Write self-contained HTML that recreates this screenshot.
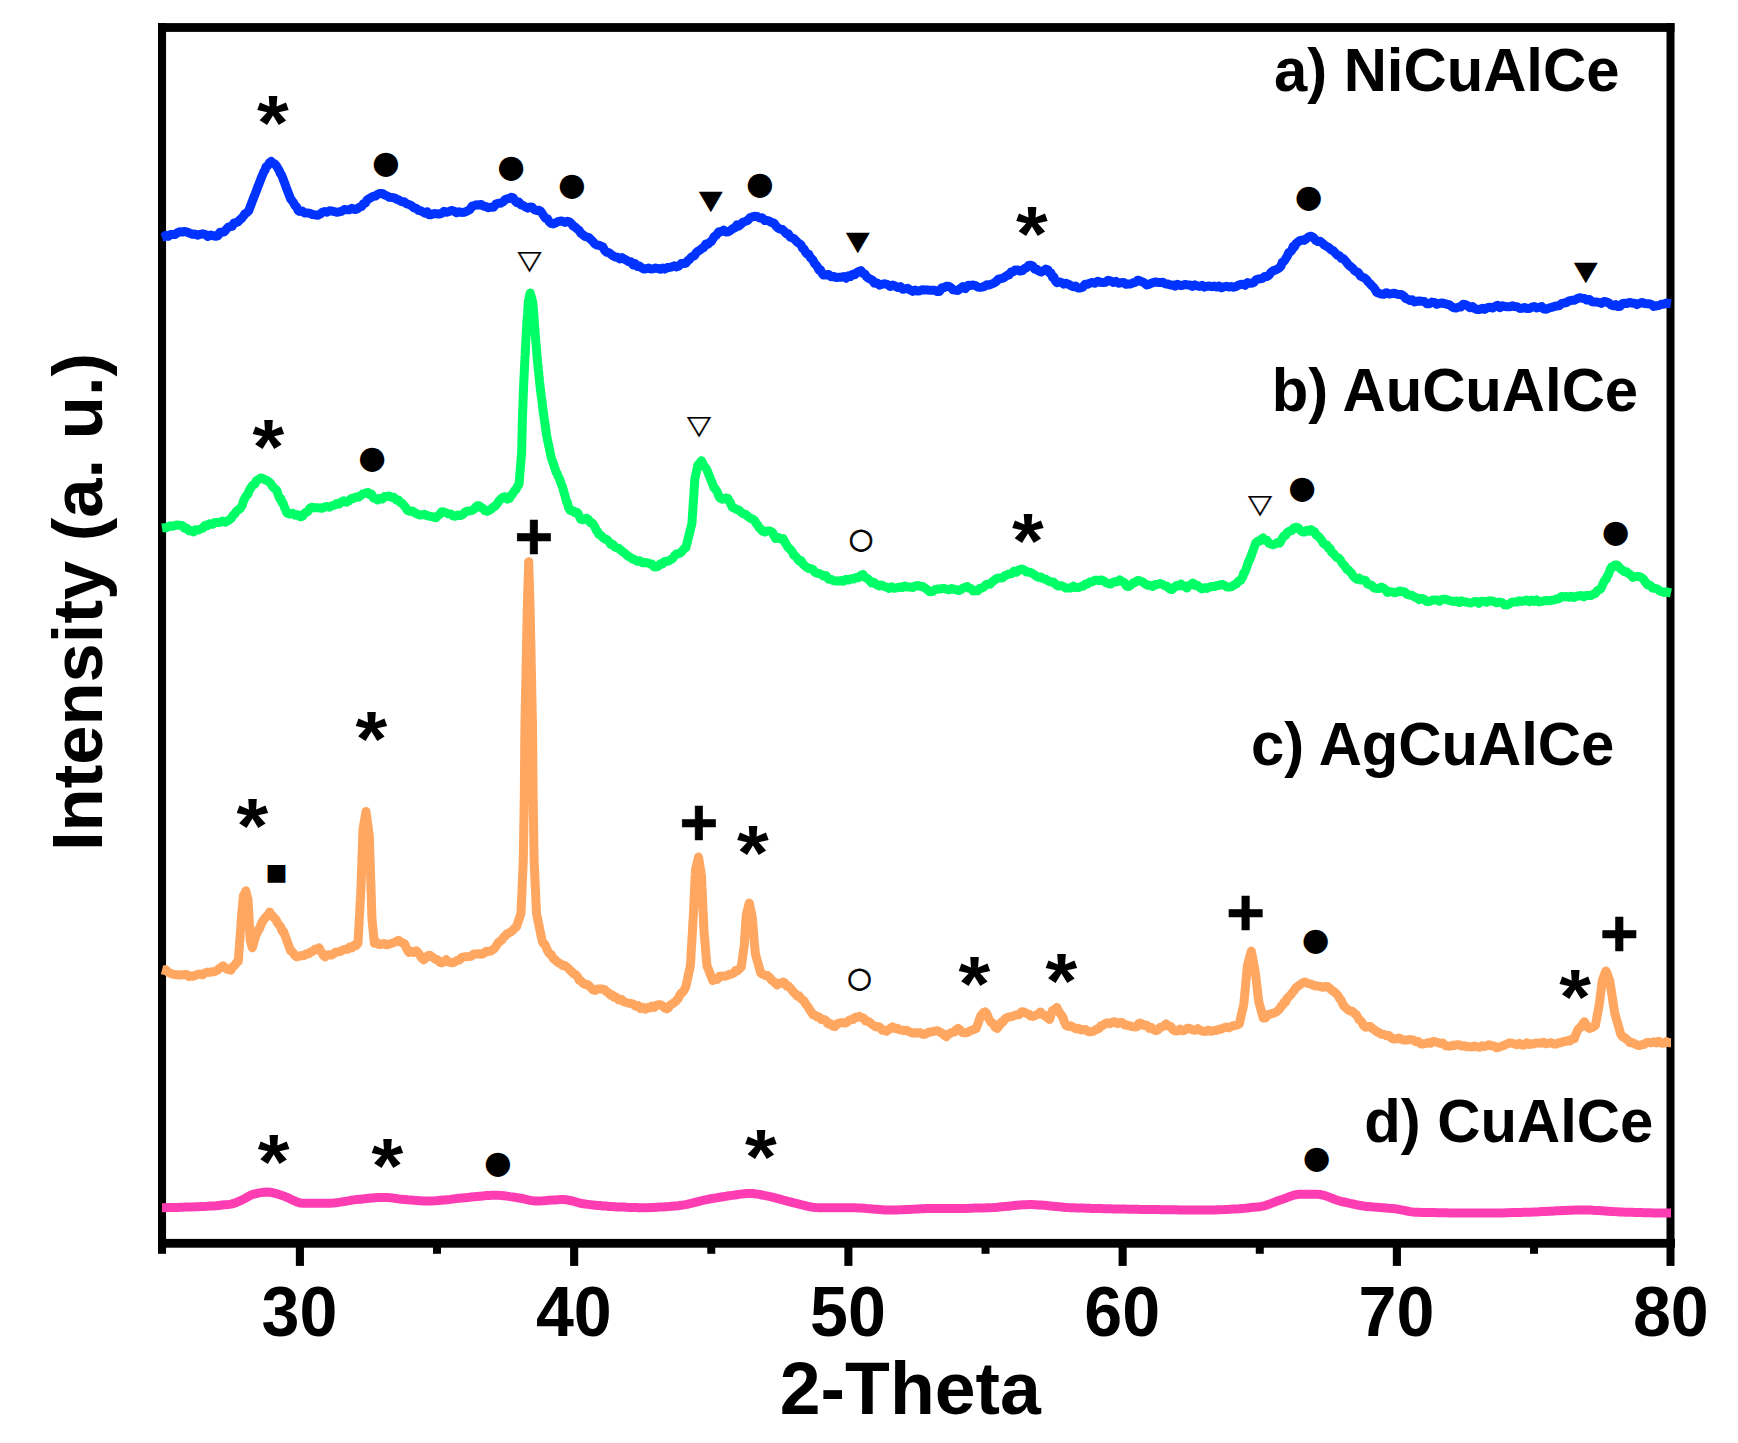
<!DOCTYPE html>
<html lang="en"><head><meta charset="utf-8"><title>XRD patterns</title>
<style>html,body{margin:0;padding:0;background:#fff;overflow:hidden}svg{display:block}</style></head>
<body>
<svg width="1738" height="1443" viewBox="0 0 1738 1443">
<rect width="1738" height="1443" fill="#fff"/>
<g fill="#000"><rect x="158" y="23.1" width="1516.5" height="8.8"/><rect x="158" y="1238.9" width="1517" height="8.8"/><rect x="158" y="23.1" width="8.05" height="1230.7"/><rect x="1666.5" y="23.1" width="8" height="1242.8"/><rect x="295.85" y="1240" width="8.1" height="25.9"/><rect x="570.10" y="1240" width="8.1" height="25.9"/><rect x="844.35" y="1240" width="8.1" height="25.9"/><rect x="1118.60" y="1240" width="8.1" height="25.9"/><rect x="1392.85" y="1240" width="8.1" height="25.9"/><rect x="433.02" y="1240" width="8" height="13.8"/><rect x="707.27" y="1240" width="8" height="13.8"/><rect x="981.52" y="1240" width="8" height="13.8"/><rect x="1255.78" y="1240" width="8" height="13.8"/><rect x="1530.03" y="1240" width="8" height="13.8"/></g>
<g fill="none" stroke-linejoin="round" stroke-linecap="butt" stroke-width="9.0">
<path d="M162.0 1207.7 L165.0 1207.7 L168.0 1207.6 L171.0 1207.6 L174.0 1207.5 L177.0 1207.4 L180.0 1207.3 L183.0 1207.2 L186.0 1207.1 L189.0 1207.0 L192.0 1206.9 L195.0 1206.8 L198.0 1206.7 L201.0 1206.5 L204.0 1206.4 L207.0 1206.3 L210.0 1206.1 L213.0 1205.9 L216.0 1205.7 L219.0 1205.4 L222.0 1205.1 L225.0 1204.8 L228.0 1204.5 L231.0 1204.1 L234.0 1203.3 L237.0 1202.2 L240.0 1200.9 L243.0 1199.5 L246.0 1197.9 L249.0 1196.1 L252.0 1194.7 L255.0 1193.9 L258.0 1193.2 L261.0 1192.6 L264.0 1192.2 L267.0 1192.0 L270.0 1192.2 L273.0 1192.7 L276.0 1193.6 L279.0 1194.6 L282.0 1195.6 L285.0 1196.6 L288.0 1197.8 L291.0 1199.3 L294.0 1200.7 L297.0 1202.0 L300.0 1202.9 L303.0 1203.2 L306.0 1203.2 L309.0 1203.2 L312.0 1203.2 L315.0 1203.2 L318.0 1203.2 L321.0 1203.2 L324.0 1203.2 L327.0 1203.2 L330.0 1203.2 L333.0 1203.1 L336.0 1202.8 L339.0 1202.4 L342.0 1201.9 L345.0 1201.4 L348.0 1200.9 L351.0 1200.3 L354.0 1199.9 L357.0 1199.5 L360.0 1199.2 L363.0 1198.9 L366.0 1198.6 L369.0 1198.3 L372.0 1198.0 L375.0 1197.7 L378.0 1197.5 L381.0 1197.4 L384.0 1197.4 L387.0 1197.5 L390.0 1197.8 L393.0 1198.1 L396.0 1198.5 L399.0 1198.9 L402.0 1199.2 L405.0 1199.5 L408.0 1199.8 L411.0 1200.0 L414.0 1200.3 L417.0 1200.5 L420.0 1200.7 L423.0 1200.9 L426.0 1201.0 L429.0 1201.0 L432.0 1200.9 L435.0 1200.8 L438.0 1200.6 L441.0 1200.3 L444.0 1200.0 L447.0 1199.7 L450.0 1199.4 L453.0 1199.0 L456.0 1198.6 L459.0 1198.3 L462.0 1198.0 L465.0 1197.7 L468.0 1197.4 L471.0 1197.1 L474.0 1196.8 L477.0 1196.5 L480.0 1196.2 L483.0 1195.9 L486.0 1195.6 L489.0 1195.4 L492.0 1195.3 L495.0 1195.2 L498.0 1195.3 L501.0 1195.4 L504.0 1195.7 L507.0 1196.1 L510.0 1196.6 L513.0 1197.0 L516.0 1197.5 L519.0 1198.0 L522.0 1198.5 L525.0 1199.2 L528.0 1199.9 L531.0 1200.5 L534.0 1200.9 L537.0 1201.0 L540.0 1200.9 L543.0 1200.8 L546.0 1200.6 L549.0 1200.3 L552.0 1200.1 L555.0 1199.9 L558.0 1199.7 L561.0 1199.6 L564.0 1199.6 L567.0 1199.9 L570.0 1200.5 L573.0 1201.2 L576.0 1202.0 L579.0 1202.8 L582.0 1203.5 L585.0 1204.0 L588.0 1204.4 L591.0 1204.8 L594.0 1205.1 L597.0 1205.4 L600.0 1205.6 L603.0 1205.9 L606.0 1206.1 L609.0 1206.4 L612.0 1206.5 L615.0 1206.7 L618.0 1206.9 L621.0 1207.0 L624.0 1207.1 L627.0 1207.3 L630.0 1207.4 L633.0 1207.5 L636.0 1207.6 L639.0 1207.7 L642.0 1207.7 L645.0 1207.7 L648.0 1207.7 L651.0 1207.6 L654.0 1207.5 L657.0 1207.3 L660.0 1207.1 L663.0 1206.9 L666.0 1206.7 L669.0 1206.5 L672.0 1206.2 L675.0 1205.9 L678.0 1205.7 L681.0 1205.3 L684.0 1204.9 L687.0 1204.3 L690.0 1203.6 L693.0 1202.9 L696.0 1202.1 L699.0 1201.3 L702.0 1200.6 L705.0 1199.9 L708.0 1199.3 L711.0 1198.8 L714.0 1198.3 L717.0 1197.7 L720.0 1197.2 L723.0 1196.7 L726.0 1196.3 L729.0 1195.8 L732.0 1195.4 L735.0 1195.0 L738.0 1194.5 L741.0 1194.1 L744.0 1193.7 L747.0 1193.5 L750.0 1193.4 L753.0 1193.6 L756.0 1193.9 L759.0 1194.4 L762.0 1195.0 L765.0 1195.6 L768.0 1196.2 L771.0 1196.8 L774.0 1197.5 L777.0 1198.3 L780.0 1199.1 L783.0 1200.0 L786.0 1200.8 L789.0 1201.6 L792.0 1202.3 L795.0 1203.1 L798.0 1203.9 L801.0 1204.7 L804.0 1205.4 L807.0 1206.2 L810.0 1206.8 L813.0 1207.3 L816.0 1207.6 L819.0 1207.7 L822.0 1207.7 L825.0 1207.7 L828.0 1207.7 L831.0 1207.7 L834.0 1207.7 L837.0 1207.7 L840.0 1207.7 L843.0 1207.7 L846.0 1207.7 L849.0 1207.7 L852.0 1207.7 L855.0 1207.8 L858.0 1207.9 L861.0 1208.1 L864.0 1208.3 L867.0 1208.6 L870.0 1208.8 L873.0 1209.1 L876.0 1209.3 L879.0 1209.5 L882.0 1209.7 L885.0 1209.9 L888.0 1210.0 L891.0 1210.0 L894.0 1210.0 L897.0 1209.9 L900.0 1209.8 L903.0 1209.7 L906.0 1209.5 L909.0 1209.4 L912.0 1209.2 L915.0 1209.1 L918.0 1208.9 L921.0 1208.8 L924.0 1208.7 L927.0 1208.6 L930.0 1208.6 L933.0 1208.6 L936.0 1208.6 L939.0 1208.6 L942.0 1208.6 L945.0 1208.6 L948.0 1208.6 L951.0 1208.6 L954.0 1208.6 L957.0 1208.5 L960.0 1208.5 L963.0 1208.4 L966.0 1208.4 L969.0 1208.3 L972.0 1208.2 L975.0 1208.1 L978.0 1208.1 L981.0 1208.0 L984.0 1207.9 L987.0 1207.8 L990.0 1207.7 L993.0 1207.6 L996.0 1207.4 L999.0 1207.1 L1002.0 1206.8 L1005.0 1206.5 L1008.0 1206.2 L1011.0 1205.9 L1014.0 1205.6 L1017.0 1205.3 L1020.0 1205.0 L1023.0 1204.8 L1026.0 1204.7 L1029.0 1204.6 L1032.0 1204.6 L1035.0 1204.7 L1038.0 1204.9 L1041.0 1205.1 L1044.0 1205.3 L1047.0 1205.6 L1050.0 1205.9 L1053.0 1206.2 L1056.0 1206.5 L1059.0 1206.8 L1062.0 1207.1 L1065.0 1207.4 L1068.0 1207.6 L1071.0 1207.7 L1074.0 1207.8 L1077.0 1207.9 L1080.0 1208.0 L1083.0 1208.1 L1086.0 1208.2 L1089.0 1208.3 L1092.0 1208.4 L1095.0 1208.5 L1098.0 1208.6 L1101.0 1208.6 L1104.0 1208.7 L1107.0 1208.8 L1110.0 1208.8 L1113.0 1208.9 L1116.0 1209.0 L1119.0 1209.0 L1122.0 1209.1 L1125.0 1209.1 L1128.0 1209.2 L1131.0 1209.2 L1134.0 1209.3 L1137.0 1209.3 L1140.0 1209.4 L1143.0 1209.4 L1146.0 1209.4 L1149.0 1209.5 L1152.0 1209.5 L1155.0 1209.6 L1158.0 1209.6 L1161.0 1209.7 L1164.0 1209.7 L1167.0 1209.7 L1170.0 1209.8 L1173.0 1209.8 L1176.0 1209.8 L1179.0 1209.9 L1182.0 1209.9 L1185.0 1209.9 L1188.0 1209.9 L1191.0 1210.0 L1194.0 1210.0 L1197.0 1210.0 L1200.0 1210.0 L1203.0 1210.0 L1206.0 1210.0 L1209.0 1210.0 L1212.0 1209.9 L1215.0 1209.9 L1218.0 1209.8 L1221.0 1209.7 L1224.0 1209.6 L1227.0 1209.4 L1230.0 1209.3 L1233.0 1209.1 L1236.0 1208.9 L1239.0 1208.7 L1242.0 1208.4 L1245.0 1208.2 L1248.0 1207.9 L1251.0 1207.6 L1254.0 1207.3 L1257.0 1207.0 L1260.0 1206.7 L1263.0 1206.1 L1266.0 1205.3 L1269.0 1204.2 L1272.0 1203.1 L1275.0 1201.9 L1278.0 1200.8 L1281.0 1199.8 L1284.0 1198.8 L1287.0 1197.6 L1290.0 1196.4 L1293.0 1195.4 L1296.0 1194.7 L1299.0 1194.3 L1302.0 1194.3 L1305.0 1194.3 L1308.0 1194.3 L1311.0 1194.3 L1314.0 1194.3 L1317.0 1194.3 L1320.0 1194.5 L1323.0 1195.1 L1326.0 1196.0 L1329.0 1197.1 L1332.0 1198.3 L1335.0 1199.5 L1338.0 1200.5 L1341.0 1201.3 L1344.0 1202.0 L1347.0 1202.7 L1350.0 1203.4 L1353.0 1204.0 L1356.0 1204.7 L1359.0 1205.2 L1362.0 1205.7 L1365.0 1206.2 L1368.0 1206.5 L1371.0 1206.8 L1374.0 1207.1 L1377.0 1207.3 L1380.0 1207.5 L1383.0 1207.7 L1386.0 1207.9 L1389.0 1208.2 L1392.0 1208.4 L1395.0 1208.8 L1398.0 1209.2 L1401.0 1209.8 L1404.0 1210.4 L1407.0 1211.0 L1410.0 1211.6 L1413.0 1212.0 L1416.0 1212.2 L1419.0 1212.3 L1422.0 1212.4 L1425.0 1212.4 L1428.0 1212.5 L1431.0 1212.6 L1434.0 1212.6 L1437.0 1212.7 L1440.0 1212.7 L1443.0 1212.8 L1446.0 1212.8 L1449.0 1212.9 L1452.0 1212.9 L1455.0 1213.0 L1458.0 1213.0 L1461.0 1213.0 L1464.0 1213.0 L1467.0 1213.1 L1470.0 1213.1 L1473.0 1213.1 L1476.0 1213.1 L1479.0 1213.1 L1482.0 1213.1 L1485.0 1213.1 L1488.0 1213.1 L1491.0 1213.1 L1494.0 1213.0 L1497.0 1213.0 L1500.0 1212.9 L1503.0 1212.9 L1506.0 1212.8 L1509.0 1212.7 L1512.0 1212.6 L1515.0 1212.6 L1518.0 1212.5 L1521.0 1212.4 L1524.0 1212.3 L1527.0 1212.2 L1530.0 1212.2 L1533.0 1212.1 L1536.0 1211.9 L1539.0 1211.8 L1542.0 1211.6 L1545.0 1211.5 L1548.0 1211.3 L1551.0 1211.2 L1554.0 1211.0 L1557.0 1210.8 L1560.0 1210.7 L1563.0 1210.5 L1566.0 1210.4 L1569.0 1210.3 L1572.0 1210.2 L1575.0 1210.1 L1578.0 1210.0 L1581.0 1210.0 L1584.0 1210.0 L1587.0 1210.1 L1590.0 1210.1 L1593.0 1210.3 L1596.0 1210.4 L1599.0 1210.6 L1602.0 1210.8 L1605.0 1211.0 L1608.0 1211.2 L1611.0 1211.4 L1614.0 1211.6 L1617.0 1211.7 L1620.0 1211.9 L1623.0 1212.1 L1626.0 1212.2 L1629.0 1212.3 L1632.0 1212.3 L1635.0 1212.4 L1638.0 1212.5 L1641.0 1212.6 L1644.0 1212.7 L1647.0 1212.7 L1650.0 1212.8 L1653.0 1212.9 L1656.0 1212.9 L1659.0 1213.0 L1662.0 1213.0 L1665.0 1213.0 L1668.0 1213.1 L1671.0 1213.1" stroke="#ff3db3"/>
<path d="M162.0 969.8 L163.5 970.2 L165.7 969.8 L168.0 972.1 L170.2 973.1 L172.4 974.1 L174.7 974.5 L176.9 974.7 L179.3 975.1 L181.6 974.8 L184.0 974.7 L186.3 974.5 L188.7 976.5 L191.0 976.1 L193.4 976.2 L195.7 975.2 L198.0 974.3 L200.4 974.2 L202.7 974.8 L205.0 973.0 L207.3 972.1 L209.7 972.4 L212.0 971.8 L214.3 971.7 L216.6 970.7 L218.8 968.9 L221.1 967.2 L223.3 965.8 L225.8 968.4 L228.3 969.6 L230.8 970.2 L232.3 967.5 L233.8 966.0 L235.3 964.7 L236.8 962.1 L238.3 961.3 L238.5 958.8 L238.7 956.4 L238.8 953.9 L239.0 951.4 L239.2 949.0 L239.4 946.5 L239.5 944.0 L239.7 941.6 L239.9 939.1 L240.1 936.7 L240.2 934.2 L240.4 931.7 L240.6 929.3 L240.8 926.8 L240.9 924.3 L241.1 921.9 L241.3 919.4 L241.5 917.0 L241.7 914.6 L241.9 912.2 L242.1 909.8 L242.4 907.5 L242.6 905.1 L242.8 902.7 L243.0 900.3 L243.2 897.9 L243.4 895.5 L244.6 893.8 L245.8 890.8 L246.4 893.1 L246.9 895.4 L247.5 897.7 L248.1 900.0 L248.2 902.5 L248.4 905.0 L248.5 907.6 L248.6 910.1 L248.8 912.6 L248.9 915.1 L249.0 917.6 L249.1 920.1 L249.3 922.7 L249.4 925.2 L249.5 927.7 L249.7 930.2 L249.8 932.7 L249.9 935.3 L250.1 937.8 L250.2 940.3 L250.9 942.8 L251.6 945.3 L252.3 947.8 L253.0 945.5 L253.6 943.3 L254.2 941.0 L254.9 938.8 L255.5 936.5 L256.2 934.3 L257.3 932.8 L258.3 929.5 L259.4 928.9 L260.5 925.9 L261.6 923.0 L262.6 921.8 L263.7 919.4 L265.2 917.9 L266.7 916.2 L268.2 914.9 L269.7 911.9 L271.2 915.0 L272.7 915.9 L274.2 918.0 L275.7 919.2 L277.2 922.4 L278.4 924.2 L279.7 925.6 L280.9 927.4 L282.1 931.1 L283.4 931.2 L284.6 934.3 L285.5 936.7 L286.3 939.0 L287.2 941.4 L288.0 943.7 L288.9 946.1 L289.7 948.4 L290.6 950.8 L292.6 951.9 L294.6 955.2 L296.6 956.8 L299.0 956.4 L301.4 955.4 L303.8 955.7 L306.2 953.8 L308.6 953.8 L310.7 951.9 L312.8 951.4 L314.9 949.3 L317.0 949.5 L319.1 947.8 L320.6 951.1 L322.1 953.0 L323.5 955.5 L325.0 956.8 L327.1 954.9 L329.2 954.8 L331.3 955.1 L333.4 954.0 L335.5 952.3 L337.9 951.9 L340.3 951.5 L342.7 949.9 L345.1 949.3 L347.5 949.3 L349.6 947.1 L351.7 947.9 L353.8 945.2 L355.9 945.7 L358.0 943.3 L358.1 940.9 L358.3 938.4 L358.4 936.0 L358.5 933.5 L358.7 931.1 L358.8 928.6 L358.9 926.2 L359.1 923.7 L359.2 921.3 L359.3 918.8 L359.4 916.4 L359.6 914.0 L359.7 911.5 L359.8 909.1 L360.0 906.6 L360.1 904.2 L360.2 901.7 L360.4 899.3 L360.5 896.8 L360.6 894.4 L360.8 891.9 L360.9 889.5 L361.0 887.0 L361.1 884.5 L361.2 882.0 L361.2 879.5 L361.3 877.0 L361.4 874.5 L361.5 872.0 L361.6 869.5 L361.7 867.0 L361.8 864.5 L361.9 862.0 L361.9 859.5 L362.0 857.1 L362.1 854.6 L362.2 852.1 L362.3 849.6 L362.4 847.1 L362.5 844.6 L362.6 842.1 L362.6 839.6 L362.7 837.1 L362.8 834.6 L362.9 832.1 L363.0 829.6 L363.4 827.0 L363.9 824.4 L364.3 821.8 L364.7 819.3 L365.1 816.7 L365.6 814.1 L366.0 811.5 L366.3 813.9 L366.7 816.3 L367.0 818.7 L367.3 821.1 L367.6 823.5 L368.0 826.0 L368.3 828.4 L368.6 830.8 L369.0 833.2 L369.3 835.6 L369.4 838.1 L369.5 840.5 L369.5 843.0 L369.6 845.5 L369.7 847.9 L369.8 850.4 L369.9 852.9 L369.9 855.3 L370.0 857.8 L370.1 860.2 L370.2 862.7 L370.3 865.2 L370.3 867.6 L370.4 870.1 L370.5 872.6 L370.6 875.0 L370.6 877.5 L370.7 880.0 L370.8 882.4 L370.9 884.9 L371.0 887.4 L371.0 889.8 L371.1 892.3 L371.2 894.8 L371.3 897.2 L371.4 899.7 L371.4 902.1 L371.5 904.6 L371.6 907.1 L371.7 909.5 L371.8 912.0 L371.8 914.5 L371.9 916.9 L372.0 919.4 L372.2 921.8 L372.5 924.2 L372.7 926.6 L373.0 929.0 L373.2 931.3 L373.4 933.7 L373.7 936.1 L373.9 938.5 L374.2 940.9 L374.4 943.3 L376.8 942.4 L379.2 944.6 L381.6 944.3 L384.0 943.4 L386.4 944.8 L388.8 944.3 L391.2 943.5 L393.6 942.6 L396.0 941.7 L398.4 940.3 L400.4 941.7 L402.3 942.9 L404.3 943.3 L405.4 945.3 L406.6 948.9 L407.7 950.0 L408.8 952.3 L411.3 951.2 L413.8 952.5 L416.3 950.8 L417.8 952.1 L419.3 954.3 L420.8 956.7 L422.3 958.7 L423.8 959.8 L425.8 957.9 L427.8 955.7 L429.8 955.3 L431.8 956.7 L433.8 958.0 L435.8 959.6 L437.7 959.7 L439.7 962.3 L441.7 962.8 L443.9 962.0 L446.2 959.8 L448.2 961.7 L450.2 962.4 L452.2 962.8 L454.6 962.0 L457.0 960.5 L459.4 960.1 L461.8 957.3 L464.2 956.8 L466.7 956.7 L469.2 956.5 L471.6 956.0 L474.1 953.9 L476.6 953.9 L479.1 953.8 L481.5 954.2 L483.9 953.3 L486.3 951.2 L488.7 951.4 L491.1 950.8 L492.9 949.8 L494.6 948.2 L496.4 945.6 L498.1 942.8 L499.9 941.4 L501.6 940.3 L503.5 937.3 L505.4 935.7 L507.2 933.6 L509.1 932.8 L511.0 931.8 L512.8 930.3 L514.6 928.2 L516.5 926.9 L517.2 924.6 L518.0 922.4 L518.8 920.1 L519.5 917.9 L520.2 915.6 L521.0 913.4 L521.1 910.9 L521.2 908.3 L521.3 905.8 L521.4 903.2 L521.5 900.7 L521.7 898.1 L521.8 895.6 L521.9 893.1 L522.0 890.5 L522.1 888.0 L522.2 885.4 L522.3 882.9 L522.4 880.3 L522.5 877.8 L522.6 875.3 L522.8 872.7 L522.9 870.2 L523.0 867.6 L523.1 865.1 L523.2 862.5 L523.3 860.0 L523.3 857.5 L523.4 855.1 L523.4 852.6 L523.5 850.2 L523.5 847.7 L523.5 845.2 L523.6 842.8 L523.6 840.3 L523.6 837.8 L523.7 835.4 L523.7 832.9 L523.8 830.5 L523.8 828.0 L523.8 825.5 L523.9 823.1 L523.9 820.6 L524.0 818.2 L524.0 815.7 L524.0 813.2 L524.1 810.8 L524.1 808.3 L524.1 805.8 L524.2 803.4 L524.2 800.9 L524.3 798.5 L524.3 796.0 L524.3 793.5 L524.3 791.0 L524.4 788.4 L524.4 785.9 L524.4 783.4 L524.4 780.9 L524.5 778.4 L524.5 775.9 L524.5 773.3 L524.5 770.8 L524.5 768.3 L524.6 765.8 L524.6 763.3 L524.6 760.8 L524.6 758.2 L524.7 755.7 L524.7 753.2 L524.7 750.7 L524.7 748.2 L524.7 745.7 L524.8 743.1 L524.8 740.6 L524.8 738.1 L524.8 735.6 L524.9 733.1 L524.9 730.6 L524.9 728.0 L524.9 725.5 L525.0 723.0 L525.0 720.5 L525.1 718.0 L525.1 715.5 L525.2 713.0 L525.2 710.6 L525.3 708.1 L525.3 705.6 L525.4 703.1 L525.4 700.6 L525.5 698.1 L525.5 695.6 L525.6 693.1 L525.6 690.6 L525.7 688.1 L525.7 685.7 L525.8 683.2 L525.8 680.7 L525.9 678.2 L525.9 675.7 L526.0 673.2 L526.0 670.7 L526.1 668.2 L526.1 665.7 L526.2 663.3 L526.2 660.8 L526.3 658.3 L526.3 655.8 L526.4 653.3 L526.4 650.8 L526.5 648.3 L526.5 645.8 L526.6 643.3 L526.6 640.9 L526.7 638.4 L526.7 635.9 L526.8 633.4 L526.8 630.9 L526.9 628.4 L526.9 625.9 L527.0 623.4 L527.0 620.9 L527.1 618.4 L527.1 616.0 L527.2 613.5 L527.2 611.0 L527.3 608.5 L527.4 606.0 L527.4 603.5 L527.5 601.1 L527.6 598.6 L527.6 596.2 L527.7 593.7 L527.8 591.2 L527.9 588.8 L528.0 586.3 L528.0 583.9 L528.1 581.4 L528.2 578.9 L528.2 576.5 L528.3 574.0 L528.4 571.5 L528.5 569.1 L528.6 566.6 L528.6 564.2 L528.7 561.7 L528.8 564.2 L528.9 566.6 L528.9 569.1 L529.0 571.5 L529.1 574.0 L529.1 576.5 L529.2 578.9 L529.3 581.4 L529.4 583.9 L529.5 586.3 L529.5 588.8 L529.6 591.2 L529.7 593.7 L529.8 596.2 L529.8 598.6 L529.9 601.1 L530.0 603.5 L530.0 606.0 L530.1 608.5 L530.2 611.0 L530.2 613.5 L530.3 616.0 L530.3 618.4 L530.4 620.9 L530.4 623.4 L530.5 625.9 L530.5 628.4 L530.6 630.9 L530.6 633.4 L530.7 635.9 L530.7 638.4 L530.8 640.9 L530.8 643.3 L530.9 645.8 L530.9 648.3 L531.0 650.8 L531.0 653.3 L531.1 655.8 L531.1 658.3 L531.2 660.8 L531.2 663.3 L531.3 665.7 L531.3 668.2 L531.4 670.7 L531.4 673.2 L531.5 675.7 L531.5 678.2 L531.6 680.7 L531.6 683.2 L531.7 685.7 L531.7 688.1 L531.8 690.6 L531.8 693.1 L531.9 695.6 L531.9 698.1 L532.0 700.6 L532.0 703.1 L532.1 705.6 L532.1 708.1 L532.2 710.6 L532.2 713.0 L532.3 715.5 L532.3 718.0 L532.4 720.5 L532.5 723.0 L532.5 725.5 L532.5 728.0 L532.5 730.6 L532.5 733.1 L532.6 735.6 L532.6 738.1 L532.6 740.6 L532.6 743.1 L532.7 745.7 L532.7 748.2 L532.7 750.7 L532.7 753.2 L532.7 755.7 L532.8 758.2 L532.8 760.8 L532.8 763.3 L532.8 765.8 L532.9 768.3 L532.9 770.8 L532.9 773.3 L532.9 775.9 L532.9 778.4 L533.0 780.9 L533.0 783.4 L533.0 785.9 L533.0 788.4 L533.1 791.0 L533.1 793.5 L533.1 796.0 L533.1 798.5 L533.2 800.9 L533.2 803.4 L533.3 805.8 L533.3 808.3 L533.3 810.8 L533.4 813.2 L533.4 815.7 L533.4 818.2 L533.5 820.6 L533.5 823.1 L533.6 825.5 L533.6 828.0 L533.6 830.5 L533.7 832.9 L533.7 835.4 L533.8 837.8 L533.8 840.3 L533.8 842.8 L533.9 845.2 L533.9 847.7 L533.9 850.2 L534.0 852.6 L534.0 855.1 L534.1 857.5 L534.1 860.0 L534.2 862.5 L534.3 865.1 L534.4 867.6 L534.6 870.2 L534.7 872.7 L534.8 875.3 L534.9 877.8 L535.0 880.3 L535.1 882.9 L535.2 885.4 L535.4 888.0 L535.5 890.5 L535.6 893.1 L535.7 895.6 L535.8 898.1 L535.9 900.7 L536.0 903.2 L536.2 905.8 L536.3 908.3 L536.4 910.9 L536.5 913.4 L537.0 915.8 L537.5 918.3 L538.0 920.7 L538.5 923.2 L539.0 925.6 L539.5 928.1 L540.0 930.5 L540.5 933.0 L541.0 935.4 L541.5 937.9 L542.0 940.3 L543.2 943.5 L544.5 944.0 L545.8 946.3 L547.0 949.6 L548.2 951.6 L549.5 953.8 L551.3 954.7 L553.1 958.4 L554.8 959.5 L556.6 961.3 L558.4 962.8 L560.5 963.7 L562.6 965.5 L564.7 965.4 L566.8 967.1 L568.9 968.8 L570.6 970.8 L572.3 972.4 L574.0 974.0 L575.8 974.5 L577.5 976.9 L579.2 980.2 L580.9 980.7 L582.9 983.3 L584.9 984.5 L586.8 984.2 L588.8 985.7 L590.8 987.5 L592.8 989.7 L595.2 990.5 L597.6 989.0 L600.0 989.0 L602.4 989.1 L604.8 989.7 L606.6 991.8 L608.4 992.8 L610.2 995.1 L612.0 994.7 L613.8 997.2 L616.3 997.1 L618.8 1000.0 L621.3 999.3 L623.8 1001.7 L626.3 1002.5 L628.8 1003.2 L631.1 1003.4 L633.5 1004.3 L635.8 1006.3 L638.2 1005.5 L640.5 1008.6 L642.9 1007.3 L645.2 1009.2 L647.5 1007.6 L649.7 1008.0 L652.0 1006.0 L654.2 1007.4 L656.5 1005.3 L658.7 1004.7 L660.7 1004.7 L662.6 1006.0 L664.5 1008.0 L666.5 1008.9 L668.2 1008.3 L670.0 1005.3 L671.7 1004.2 L673.4 1003.1 L675.2 1001.8 L676.9 999.9 L678.4 998.2 L679.9 995.0 L681.4 992.9 L682.9 991.9 L684.4 989.7 L685.9 986.5 L686.4 984.2 L686.9 981.8 L687.4 979.5 L687.9 977.2 L688.4 974.8 L688.9 972.5 L689.4 970.2 L689.9 967.8 L690.4 965.5 L690.5 963.0 L690.7 960.4 L690.9 957.9 L691.0 955.3 L691.1 952.8 L691.3 950.2 L691.4 947.7 L691.6 945.1 L691.8 942.6 L691.9 940.0 L692.0 937.5 L692.2 935.0 L692.4 932.4 L692.5 929.9 L692.6 927.3 L692.8 924.8 L692.9 922.2 L693.1 919.7 L693.2 917.1 L693.4 914.6 L693.5 912.1 L693.6 909.6 L693.8 907.1 L693.9 904.6 L694.0 902.2 L694.1 899.7 L694.2 897.2 L694.3 894.7 L694.5 892.2 L694.6 889.7 L694.7 887.2 L694.8 884.7 L694.9 882.2 L695.0 879.8 L695.1 877.3 L695.3 874.8 L695.4 872.3 L695.5 869.8 L696.1 867.2 L696.7 864.7 L697.3 862.1 L697.9 859.6 L698.5 857.0 L698.9 859.3 L699.2 861.7 L699.6 864.0 L700.0 866.4 L700.4 868.7 L700.8 871.0 L701.1 873.4 L701.5 875.7 L701.6 878.2 L701.7 880.6 L701.8 883.1 L701.9 885.5 L702.0 888.0 L702.2 890.4 L702.3 892.9 L702.4 895.3 L702.5 897.8 L702.6 900.2 L702.7 902.7 L702.8 905.1 L702.9 907.6 L703.0 910.0 L703.1 912.5 L703.2 914.9 L703.4 917.4 L703.5 919.8 L703.6 922.2 L703.7 924.7 L703.8 927.1 L703.9 929.6 L704.1 932.2 L704.3 934.7 L704.5 937.3 L704.8 939.9 L705.0 942.4 L705.2 945.0 L705.4 947.5 L705.6 950.1 L705.8 952.7 L706.0 955.2 L706.3 957.8 L706.5 960.4 L706.7 962.9 L706.9 965.5 L707.9 968.0 L708.9 970.5 L709.8 973.0 L710.8 975.5 L711.8 978.0 L712.8 980.5 L715.0 979.2 L717.3 979.4 L719.5 976.3 L721.8 976.0 L724.2 976.2 L726.6 975.8 L729.0 974.4 L731.4 974.1 L733.8 973.0 L735.7 970.4 L737.5 970.8 L739.4 968.9 L741.3 967.0 L741.6 964.5 L742.0 962.0 L742.3 959.5 L742.6 957.0 L743.0 954.6 L743.3 952.1 L743.6 949.6 L744.0 947.1 L744.3 944.6 L744.5 942.1 L744.6 939.6 L744.8 937.1 L745.0 934.6 L745.1 932.1 L745.3 929.6 L745.5 927.1 L745.6 924.6 L745.8 922.1 L746.0 919.6 L746.1 917.1 L746.3 914.6 L746.9 912.3 L747.5 910.0 L748.1 907.6 L748.7 905.3 L749.3 903.0 L749.8 905.4 L750.3 907.9 L750.8 910.3 L751.3 912.7 L751.8 915.2 L752.3 917.6 L752.5 920.2 L752.7 922.7 L752.9 925.3 L753.2 927.9 L753.4 930.4 L753.6 933.0 L753.8 935.5 L754.0 938.1 L754.2 940.7 L754.4 943.2 L754.7 945.8 L754.9 948.4 L755.1 950.9 L755.3 953.5 L756.0 955.9 L756.6 958.4 L757.3 960.8 L758.0 963.2 L758.7 965.7 L759.4 968.1 L760.0 970.6 L760.7 973.0 L763.0 974.3 L765.2 975.4 L767.5 975.6 L769.7 977.5 L771.6 980.2 L773.5 981.3 L775.3 983.4 L777.2 985.0 L779.2 983.2 L781.2 983.3 L783.2 982.0 L784.9 983.1 L786.7 986.1 L788.4 986.1 L790.1 988.0 L791.9 990.0 L793.6 992.4 L795.4 993.7 L797.2 996.3 L799.0 995.7 L800.8 998.5 L802.6 999.9 L804.1 1000.9 L805.6 1003.9 L807.1 1005.8 L808.6 1007.7 L810.1 1010.6 L811.6 1012.4 L813.1 1014.9 L815.2 1015.2 L817.3 1017.0 L819.3 1017.0 L821.4 1019.6 L823.5 1019.4 L825.8 1020.4 L828.0 1023.9 L830.2 1023.5 L832.5 1026.0 L834.9 1026.5 L837.3 1023.8 L839.7 1023.0 L842.1 1022.6 L844.5 1023.0 L846.6 1022.6 L848.8 1020.5 L850.9 1019.6 L853.1 1019.6 L855.2 1017.2 L857.4 1017.4 L859.5 1016.4 L861.5 1017.4 L863.5 1018.1 L865.5 1021.1 L867.4 1021.1 L869.4 1022.1 L871.4 1023.9 L873.5 1025.4 L875.7 1026.9 L877.8 1026.4 L880.0 1027.2 L882.1 1030.3 L884.3 1030.1 L886.4 1031.3 L888.4 1029.9 L890.4 1028.3 L892.4 1026.9 L894.8 1028.4 L897.2 1028.2 L899.5 1029.8 L901.9 1030.0 L904.3 1030.7 L906.9 1030.2 L909.4 1031.8 L912.0 1033.1 L914.6 1032.8 L917.2 1033.0 L919.7 1032.6 L922.3 1034.3 L924.8 1034.2 L927.3 1032.8 L929.8 1032.1 L932.3 1031.6 L934.8 1031.1 L937.3 1030.7 L939.5 1031.8 L941.8 1033.2 L944.0 1035.1 L946.2 1036.7 L948.2 1034.2 L950.2 1033.3 L952.2 1032.4 L954.2 1032.1 L956.2 1029.6 L958.2 1028.4 L960.2 1030.0 L962.2 1032.3 L964.2 1032.8 L966.6 1032.7 L969.0 1031.5 L971.4 1030.4 L973.8 1029.5 L976.2 1028.4 L977.1 1026.0 L978.0 1023.6 L978.8 1021.2 L979.7 1018.8 L980.6 1016.4 L982.1 1014.2 L983.6 1012.5 L985.1 1011.9 L986.3 1012.9 L987.5 1015.1 L988.7 1018.5 L989.9 1020.6 L991.1 1022.4 L993.1 1023.3 L995.1 1027.2 L997.1 1028.4 L998.6 1026.5 L1000.1 1024.9 L1001.6 1022.0 L1003.1 1022.1 L1004.6 1019.4 L1007.0 1017.5 L1009.5 1016.8 L1011.9 1016.5 L1014.3 1015.6 L1016.7 1014.8 L1019.1 1014.8 L1021.6 1011.7 L1024.0 1011.9 L1026.2 1013.4 L1028.5 1014.0 L1030.8 1016.0 L1033.0 1016.4 L1035.5 1015.3 L1038.0 1014.2 L1040.5 1011.9 L1042.3 1014.3 L1044.1 1015.6 L1045.9 1015.5 L1047.7 1018.0 L1049.5 1019.4 L1050.2 1017.1 L1051.0 1014.9 L1051.8 1012.6 L1052.5 1010.4 L1054.7 1009.6 L1056.9 1007.4 L1058.4 1010.6 L1059.9 1013.4 L1061.4 1014.9 L1062.3 1016.8 L1063.2 1017.9 L1064.1 1021.7 L1065.0 1022.8 L1065.9 1025.4 L1068.4 1026.5 L1070.9 1025.8 L1073.4 1027.3 L1075.9 1028.7 L1078.4 1028.3 L1080.9 1029.9 L1083.3 1029.7 L1085.7 1029.6 L1088.1 1031.7 L1090.5 1031.7 L1092.9 1031.3 L1094.9 1030.4 L1096.9 1028.9 L1098.8 1028.7 L1100.8 1025.8 L1102.8 1025.6 L1104.8 1023.9 L1107.3 1022.7 L1109.8 1023.7 L1112.3 1022.4 L1114.8 1021.7 L1117.3 1023.6 L1119.8 1022.4 L1122.3 1022.6 L1124.8 1025.1 L1127.2 1025.1 L1129.7 1025.8 L1132.2 1026.6 L1134.7 1026.9 L1136.7 1026.8 L1138.7 1023.6 L1140.7 1023.0 L1142.8 1025.3 L1145.0 1024.8 L1147.1 1025.3 L1149.3 1028.4 L1151.4 1027.5 L1153.6 1029.5 L1155.7 1030.7 L1157.8 1030.1 L1159.9 1027.4 L1162.0 1027.1 L1164.1 1025.6 L1166.2 1023.9 L1168.4 1026.1 L1170.6 1026.5 L1172.8 1029.5 L1175.0 1030.7 L1177.5 1031.1 L1180.0 1029.1 L1182.5 1030.7 L1184.9 1030.3 L1187.4 1028.3 L1189.9 1028.4 L1192.5 1029.9 L1195.2 1030.2 L1197.8 1028.6 L1200.4 1030.4 L1203.0 1031.3 L1205.7 1031.4 L1208.3 1030.1 L1210.9 1031.3 L1213.5 1030.6 L1216.0 1030.5 L1218.6 1029.5 L1221.1 1029.0 L1223.7 1027.8 L1226.2 1027.1 L1228.8 1027.8 L1231.4 1026.4 L1234.0 1025.7 L1236.7 1025.1 L1239.3 1023.9 L1239.9 1021.5 L1240.4 1019.0 L1241.0 1016.6 L1241.5 1014.1 L1242.1 1011.7 L1242.7 1009.3 L1243.2 1006.8 L1243.8 1004.4 L1244.0 1002.0 L1244.2 999.5 L1244.5 997.1 L1244.7 994.7 L1244.9 992.2 L1245.2 989.8 L1245.4 987.4 L1245.6 985.0 L1245.8 982.5 L1246.0 980.1 L1246.3 977.7 L1246.5 975.2 L1246.7 972.8 L1247.0 970.4 L1247.2 967.9 L1247.4 965.5 L1248.1 963.1 L1248.7 960.7 L1249.3 958.2 L1250.0 955.8 L1250.7 953.4 L1251.3 951.0 L1251.8 953.6 L1252.3 956.1 L1252.8 958.7 L1253.2 961.2 L1253.7 963.8 L1254.2 966.4 L1254.7 968.9 L1255.2 971.5 L1255.5 974.0 L1255.8 976.5 L1256.1 979.0 L1256.4 981.5 L1256.7 984.0 L1257.0 986.5 L1257.2 988.9 L1257.5 991.4 L1257.8 993.9 L1258.1 996.4 L1258.4 998.9 L1258.7 1001.4 L1259.3 1003.8 L1260.0 1006.1 L1260.6 1008.5 L1261.3 1010.8 L1261.9 1013.2 L1262.6 1015.5 L1263.2 1017.9 L1265.5 1017.9 L1267.7 1014.7 L1270.0 1014.2 L1272.2 1013.4 L1274.7 1012.8 L1277.2 1011.2 L1279.7 1008.9 L1281.2 1006.0 L1282.7 1005.3 L1284.2 1001.9 L1285.7 1002.0 L1287.2 998.3 L1288.7 996.9 L1290.5 995.1 L1292.3 992.7 L1294.0 990.7 L1295.8 987.9 L1297.6 986.5 L1300.1 984.7 L1302.6 983.0 L1305.1 982.0 L1307.7 983.3 L1310.3 983.8 L1313.0 985.1 L1315.6 985.9 L1318.0 986.1 L1320.4 986.5 L1322.8 987.4 L1325.2 986.5 L1327.6 986.5 L1329.4 988.1 L1331.2 989.7 L1332.9 991.1 L1334.7 992.2 L1336.5 993.9 L1338.0 995.5 L1339.5 998.5 L1341.0 1000.0 L1342.5 1003.3 L1344.0 1006.1 L1345.5 1007.4 L1347.8 1009.6 L1350.0 1011.1 L1352.2 1011.2 L1354.5 1013.4 L1356.0 1014.3 L1357.5 1016.7 L1359.0 1019.6 L1360.5 1020.5 L1362.0 1022.4 L1363.5 1025.4 L1365.7 1027.3 L1368.0 1026.6 L1370.2 1026.6 L1372.4 1028.4 L1374.7 1029.9 L1376.9 1031.8 L1379.2 1032.7 L1381.4 1034.3 L1383.9 1034.2 L1386.4 1035.8 L1388.9 1035.5 L1391.4 1037.9 L1393.9 1039.1 L1396.4 1038.8 L1398.8 1037.9 L1401.2 1039.3 L1403.6 1040.1 L1406.0 1039.9 L1408.4 1039.7 L1410.9 1039.6 L1413.4 1040.1 L1415.8 1041.7 L1418.3 1041.4 L1420.8 1044.0 L1423.3 1043.9 L1425.7 1043.5 L1428.1 1042.6 L1430.5 1043.3 L1432.9 1041.5 L1435.3 1041.8 L1437.8 1042.6 L1440.3 1043.3 L1442.8 1043.1 L1445.2 1045.5 L1447.7 1046.0 L1450.2 1046.3 L1452.5 1045.2 L1454.7 1045.4 L1457.0 1044.7 L1459.2 1044.8 L1461.8 1046.1 L1464.3 1045.8 L1466.9 1046.8 L1469.5 1046.6 L1472.1 1047.0 L1474.6 1046.1 L1477.2 1046.9 L1479.6 1047.3 L1482.0 1045.7 L1484.3 1046.4 L1486.7 1045.7 L1489.1 1044.8 L1491.6 1045.8 L1494.1 1046.0 L1496.6 1047.8 L1499.2 1047.1 L1501.8 1046.1 L1504.5 1045.3 L1507.1 1043.9 L1509.5 1042.9 L1512.0 1043.3 L1514.4 1044.0 L1516.9 1044.7 L1519.3 1043.3 L1521.8 1044.9 L1524.2 1045.0 L1526.7 1042.9 L1529.1 1044.4 L1531.6 1043.7 L1534.0 1043.9 L1536.5 1042.9 L1538.9 1043.0 L1541.4 1043.2 L1543.8 1042.3 L1546.3 1043.8 L1548.7 1043.1 L1551.2 1042.8 L1553.6 1043.9 L1556.1 1044.0 L1558.5 1042.7 L1561.0 1042.7 L1563.2 1041.6 L1565.5 1041.6 L1567.7 1040.5 L1569.9 1041.0 L1572.2 1038.9 L1574.4 1038.8 L1575.3 1035.8 L1576.2 1033.5 L1577.1 1031.8 L1578.0 1029.5 L1578.9 1028.4 L1580.7 1027.2 L1582.5 1024.4 L1584.3 1021.8 L1586.0 1024.2 L1587.7 1027.3 L1589.4 1028.4 L1591.4 1027.7 L1593.4 1026.9 L1595.4 1025.4 L1595.8 1023.1 L1596.3 1020.7 L1596.7 1018.4 L1597.1 1016.1 L1597.6 1013.7 L1598.0 1011.4 L1598.4 1009.1 L1598.9 1006.7 L1599.3 1004.4 L1599.6 1002.0 L1599.9 999.6 L1600.2 997.2 L1600.5 994.8 L1600.8 992.5 L1601.1 990.1 L1601.4 987.7 L1601.7 985.3 L1602.0 982.9 L1602.3 980.5 L1603.2 978.1 L1604.0 975.8 L1604.9 973.4 L1605.8 971.0 L1606.8 972.6 L1607.8 975.2 L1608.7 978.4 L1609.7 980.5 L1610.1 983.0 L1610.5 985.6 L1610.9 988.1 L1611.3 990.6 L1611.7 993.2 L1612.1 995.7 L1612.4 998.2 L1612.8 1000.7 L1613.2 1003.3 L1613.6 1005.8 L1614.0 1008.3 L1614.4 1010.9 L1614.8 1013.4 L1615.5 1015.7 L1616.1 1018.0 L1616.8 1020.4 L1617.5 1022.7 L1618.1 1025.0 L1618.8 1027.3 L1619.5 1029.7 L1620.1 1032.0 L1620.8 1034.3 L1622.6 1036.8 L1624.4 1037.1 L1626.2 1039.2 L1628.0 1040.5 L1629.8 1042.7 L1632.2 1042.6 L1634.6 1043.7 L1637.0 1045.0 L1639.4 1045.5 L1641.8 1044.8 L1644.2 1044.4 L1646.6 1042.5 L1648.9 1042.5 L1651.3 1042.8 L1653.7 1041.8 L1656.2 1043.0 L1658.7 1041.3 L1661.2 1043.0 L1663.7 1043.3 L1666.2 1041.6 L1668.7 1042.7 L1671.0 1042.7" stroke="#ffa660"/>
<path d="M162.0 527.9 L163.5 527.7 L165.8 527.8 L168.2 526.7 L170.5 525.8 L172.9 526.3 L175.2 525.2 L177.6 525.1 L179.9 525.3 L182.2 525.4 L184.4 528.2 L186.7 528.0 L188.9 530.9 L191.2 530.6 L193.4 531.9 L195.7 529.8 L198.1 530.1 L200.4 529.0 L202.8 528.3 L205.1 525.2 L207.5 525.7 L209.8 523.8 L212.4 524.3 L214.9 522.4 L217.5 522.4 L220.1 522.4 L222.7 521.0 L225.2 522.2 L227.8 520.8 L229.5 519.6 L231.2 518.3 L232.9 515.5 L234.7 514.0 L236.4 511.4 L238.1 510.0 L239.8 508.8 L241.0 507.2 L242.2 505.5 L243.4 501.2 L244.6 498.7 L245.8 496.5 L246.9 495.2 L248.1 493.9 L249.3 490.2 L250.5 488.6 L251.7 486.4 L253.3 484.8 L254.8 484.1 L256.4 480.7 L258.0 480.0 L260.6 478.0 L263.1 478.6 L265.1 479.8 L267.0 480.5 L269.0 482.0 L270.7 483.3 L272.4 486.4 L274.0 488.0 L275.7 489.4 L276.8 490.5 L277.9 493.9 L278.9 496.7 L280.0 499.2 L281.1 499.0 L282.2 503.2 L283.3 503.4 L284.4 507.3 L285.4 509.2 L286.5 512.3 L287.6 513.3 L290.1 514.1 L292.6 513.2 L295.1 515.2 L297.6 514.7 L300.1 516.7 L302.6 516.3 L304.4 513.3 L306.2 512.2 L308.0 511.4 L309.8 508.2 L311.6 507.3 L314.2 507.7 L316.7 507.8 L319.3 507.9 L321.8 508.3 L324.4 507.1 L326.9 506.4 L329.5 507.3 L331.9 505.8 L334.3 505.2 L336.7 503.5 L339.1 504.3 L341.5 501.7 L343.9 500.8 L346.3 502.2 L348.7 501.0 L351.1 498.6 L353.5 498.4 L355.9 497.0 L358.3 497.2 L360.6 495.7 L363.0 493.8 L365.4 493.3 L367.8 492.4 L369.7 494.8 L371.6 494.1 L373.6 498.2 L375.5 498.6 L377.4 499.9 L379.8 498.3 L382.2 499.1 L384.6 496.5 L387.0 496.5 L389.4 496.0 L391.6 497.2 L393.9 497.3 L396.1 499.9 L398.4 499.9 L400.2 502.5 L402.0 503.2 L403.7 505.2 L405.5 507.1 L407.3 510.3 L409.8 511.2 L412.3 511.0 L414.8 512.7 L417.3 514.1 L419.8 515.0 L422.3 514.8 L424.6 514.3 L426.8 515.4 L429.1 516.1 L431.3 516.5 L433.6 517.1 L435.8 517.8 L437.8 515.7 L439.7 514.5 L441.7 511.8 L443.9 512.0 L446.2 512.9 L448.4 513.8 L450.7 513.9 L452.9 515.9 L455.2 516.3 L457.7 515.1 L460.2 515.6 L462.7 514.4 L465.2 512.0 L467.7 511.1 L470.2 510.9 L472.4 510.4 L474.6 508.5 L476.9 505.8 L479.1 505.8 L481.1 507.5 L483.0 508.3 L484.9 510.7 L486.9 511.3 L489.0 510.4 L491.1 509.3 L493.1 507.1 L495.2 506.1 L497.3 503.5 L499.0 500.9 L500.8 499.1 L502.5 497.5 L504.8 496.7 L507.2 499.1 L509.5 498.5 L510.8 495.6 L512.1 494.6 L513.4 492.5 L514.7 490.5 L516.1 489.3 L517.6 486.1 L519.0 484.4 L519.2 482.0 L519.4 479.6 L519.6 477.2 L519.8 474.8 L520.0 472.4 L520.2 470.0 L520.4 467.6 L520.6 465.2 L520.8 462.8 L521.0 460.4 L521.2 458.0 L521.4 455.6 L521.6 453.2 L521.7 450.7 L521.7 448.3 L521.8 445.8 L521.8 443.3 L521.9 440.8 L521.9 438.4 L522.0 435.9 L522.1 433.4 L522.1 431.0 L522.2 428.5 L522.2 426.0 L522.3 423.5 L522.3 421.1 L522.4 418.6 L522.5 416.1 L522.6 413.7 L522.7 411.2 L522.8 408.7 L522.9 406.2 L523.0 403.8 L523.0 401.3 L523.1 398.8 L523.2 396.4 L523.3 393.9 L523.4 391.4 L523.5 388.9 L523.6 386.5 L523.7 384.0 L523.8 381.5 L523.9 379.0 L524.1 376.6 L524.2 374.1 L524.3 371.6 L524.4 369.1 L524.5 366.6 L524.7 364.2 L524.8 361.7 L524.9 359.2 L525.0 356.7 L525.2 354.3 L525.3 351.8 L525.4 349.3 L525.5 346.7 L525.7 344.1 L525.8 341.5 L526.0 338.9 L526.1 336.3 L526.2 333.7 L526.4 331.1 L526.5 328.5 L526.7 325.9 L526.8 323.3 L527.0 320.8 L527.2 318.3 L527.4 315.8 L527.6 313.3 L527.7 310.8 L527.9 308.3 L528.1 305.8 L528.3 303.3 L528.5 300.8 L529.1 298.2 L529.6 295.6 L530.2 293.0 L530.9 295.4 L531.5 297.8 L532.1 300.1 L532.8 302.5 L533.0 305.0 L533.2 307.4 L533.4 309.9 L533.6 312.3 L533.8 314.8 L534.0 317.2 L534.1 319.7 L534.3 322.2 L534.5 324.6 L534.7 327.1 L534.9 329.5 L535.1 332.0 L535.3 334.6 L535.5 337.2 L535.7 339.8 L535.9 342.4 L536.2 345.0 L536.4 347.6 L536.6 350.2 L536.8 352.8 L537.0 355.4 L537.2 358.0 L537.5 360.6 L537.7 363.2 L538.0 365.8 L538.2 368.4 L538.5 371.0 L538.8 373.6 L539.0 376.2 L539.3 378.8 L539.5 381.4 L539.8 384.0 L540.1 386.5 L540.4 389.0 L540.7 391.6 L541.0 394.1 L541.3 396.6 L541.7 399.1 L542.0 401.6 L542.3 404.1 L542.6 406.7 L542.9 409.2 L543.2 411.7 L543.6 414.1 L543.9 416.5 L544.2 419.0 L544.6 421.4 L545.0 423.8 L545.3 426.2 L545.7 428.6 L546.0 431.1 L546.4 433.5 L546.7 435.9 L547.2 438.5 L547.8 441.1 L548.3 443.7 L548.9 446.3 L549.4 448.9 L549.9 451.5 L550.5 454.1 L551.0 456.7 L551.7 458.9 L552.5 461.2 L553.2 463.4 L554.0 465.6 L554.7 467.8 L555.5 470.1 L556.2 472.3 L557.2 473.7 L558.2 476.6 L559.2 478.1 L560.3 481.1 L561.3 484.2 L562.3 486.2 L563.0 488.8 L563.7 491.4 L564.5 494.0 L565.2 496.6 L565.9 499.2 L566.6 501.8 L567.5 502.8 L568.4 507.4 L569.2 508.3 L570.1 510.4 L572.4 510.5 L574.7 512.5 L577.0 512.2 L578.2 513.6 L579.3 516.3 L580.5 519.1 L583.5 519.8 L586.5 518.2 L588.5 519.5 L590.4 522.7 L592.3 523.0 L594.3 526.0 L595.4 528.2 L596.5 530.6 L597.7 531.5 L598.8 534.3 L600.8 535.3 L602.8 537.4 L604.8 539.0 L606.8 539.4 L608.8 541.5 L610.8 544.5 L612.8 544.3 L614.8 547.0 L616.8 547.7 L618.8 548.3 L620.8 550.3 L622.8 551.7 L624.8 553.3 L626.7 554.9 L628.7 556.5 L630.7 557.6 L632.7 559.2 L634.7 559.7 L637.2 561.4 L639.8 560.7 L642.4 562.7 L644.9 562.6 L647.5 562.7 L650.0 564.0 L652.0 564.1 L654.0 566.7 L656.0 567.0 L658.1 566.3 L660.3 563.7 L662.4 564.0 L664.5 561.5 L666.6 561.4 L668.8 560.8 L670.9 559.5 L672.8 558.4 L674.6 555.6 L676.5 553.9 L678.4 553.7 L680.3 552.9 L682.1 551.3 L684.0 548.7 L685.9 547.6 L686.5 545.2 L687.1 542.8 L687.7 540.4 L688.3 538.0 L688.9 535.6 L689.5 533.2 L690.1 530.8 L690.7 528.4 L691.3 526.0 L691.9 523.6 L692.1 521.1 L692.2 518.6 L692.4 516.1 L692.6 513.6 L692.7 511.1 L692.9 508.6 L693.1 506.1 L693.2 503.6 L693.4 501.1 L693.6 498.7 L693.7 496.2 L693.9 493.7 L694.1 491.2 L694.2 488.7 L694.4 486.2 L694.6 483.7 L694.7 481.2 L694.9 478.7 L695.4 476.4 L695.9 474.1 L696.4 471.9 L696.9 469.6 L697.4 467.3 L697.9 465.0 L699.7 463.1 L701.5 460.8 L702.9 463.6 L704.2 466.3 L705.5 467.5 L706.9 469.8 L707.9 472.3 L708.9 474.8 L709.8 477.2 L710.8 479.7 L711.8 482.2 L712.8 484.7 L714.0 487.9 L715.3 488.7 L716.5 490.7 L717.8 493.2 L719.0 496.5 L720.3 498.2 L722.8 499.2 L725.3 498.1 L727.8 498.2 L728.9 501.0 L730.0 501.8 L731.2 505.0 L732.3 507.2 L734.5 508.3 L736.8 509.5 L739.0 510.1 L741.3 512.5 L743.5 513.8 L745.8 514.6 L748.0 516.5 L750.2 518.2 L752.5 519.0 L754.7 520.6 L756.2 523.6 L757.7 525.0 L759.2 527.9 L760.7 528.8 L762.2 531.1 L764.8 532.0 L767.5 531.1 L770.1 531.1 L772.7 532.6 L773.7 535.7 L774.7 536.3 L775.7 538.6 L778.2 537.4 L780.7 538.9 L783.2 538.6 L784.5 541.8 L785.8 543.4 L787.1 546.0 L788.4 547.9 L789.7 548.7 L791.0 550.2 L792.3 551.8 L793.6 555.0 L795.5 556.1 L797.4 558.7 L799.2 561.1 L801.1 560.5 L803.0 564.3 L804.9 565.8 L806.7 567.3 L808.6 568.5 L810.7 568.6 L812.9 569.5 L815.0 572.3 L817.1 573.2 L819.2 573.5 L821.4 574.5 L823.5 576.0 L826.0 575.6 L828.5 579.0 L831.0 579.4 L833.5 580.6 L836.0 581.1 L838.5 581.1 L841.0 580.6 L843.5 581.3 L846.0 579.3 L848.5 580.1 L851.0 578.7 L853.5 579.0 L855.9 577.6 L858.2 577.7 L860.6 575.4 L863.0 574.5 L864.7 577.2 L866.4 578.1 L868.0 579.0 L869.7 580.6 L871.4 582.9 L873.9 582.3 L876.4 584.5 L878.9 585.9 L881.4 585.0 L883.9 586.3 L886.4 587.1 L889.0 588.4 L891.6 586.8 L894.2 588.2 L896.8 587.9 L899.5 587.1 L902.1 587.5 L904.7 586.0 L907.3 587.1 L910.0 587.0 L912.7 587.5 L915.4 586.0 L918.1 585.5 L920.8 586.5 L923.0 586.6 L925.3 588.3 L927.5 589.8 L929.8 591.8 L932.3 591.6 L934.8 589.8 L937.3 588.9 L939.7 589.1 L942.1 588.5 L944.5 588.6 L946.9 589.3 L949.2 589.8 L951.6 588.4 L954.0 589.2 L956.4 589.8 L958.8 590.6 L961.2 589.5 L963.2 587.9 L965.2 587.2 L967.2 586.5 L969.2 588.2 L971.2 588.6 L973.2 591.0 L975.4 590.5 L977.7 590.7 L979.9 588.2 L982.1 588.0 L984.1 586.7 L986.1 584.5 L988.1 584.3 L990.1 584.2 L992.1 581.9 L994.1 580.5 L996.2 578.8 L998.4 578.1 L1000.5 578.0 L1002.7 577.7 L1004.8 575.7 L1007.0 574.8 L1009.1 573.9 L1011.6 573.7 L1014.1 571.0 L1016.6 572.2 L1019.1 570.0 L1021.6 569.1 L1024.0 569.8 L1026.4 572.1 L1028.8 571.9 L1031.2 572.8 L1033.6 574.2 L1036.0 576.0 L1038.5 577.4 L1041.0 577.0 L1043.5 578.9 L1046.0 579.3 L1048.5 581.1 L1051.0 582.0 L1053.5 582.1 L1056.0 584.7 L1058.5 586.1 L1060.9 585.5 L1063.4 586.6 L1065.9 588.0 L1068.4 588.0 L1070.9 588.1 L1073.4 586.1 L1075.9 587.5 L1078.4 587.6 L1080.9 586.5 L1083.2 586.1 L1085.4 584.1 L1087.7 584.0 L1089.9 582.0 L1092.3 581.7 L1094.7 580.3 L1097.0 580.2 L1099.4 580.6 L1101.8 579.9 L1104.0 581.1 L1106.3 582.8 L1108.5 583.6 L1110.8 584.1 L1113.0 582.3 L1115.3 581.7 L1117.5 581.7 L1119.8 579.9 L1122.0 581.4 L1124.2 582.5 L1126.5 586.0 L1128.7 586.5 L1131.0 584.9 L1133.2 583.0 L1135.5 582.0 L1137.7 580.5 L1140.2 581.0 L1142.7 581.9 L1145.2 583.9 L1147.7 585.3 L1150.2 585.3 L1152.7 586.5 L1155.1 584.6 L1157.6 584.4 L1160.0 583.5 L1162.4 584.4 L1164.8 585.7 L1167.2 586.4 L1169.6 589.0 L1172.0 589.5 L1174.2 587.4 L1176.5 585.6 L1178.7 586.0 L1180.9 584.1 L1182.9 586.0 L1184.9 586.0 L1186.9 588.0 L1188.9 585.5 L1190.9 584.8 L1192.9 582.9 L1195.2 585.5 L1197.4 585.3 L1199.7 587.5 L1201.9 588.9 L1204.5 587.7 L1207.0 588.4 L1209.6 587.1 L1212.1 586.4 L1214.7 586.5 L1217.2 585.6 L1219.8 585.0 L1222.2 584.5 L1224.6 585.4 L1227.0 587.1 L1229.4 587.0 L1231.8 586.5 L1234.0 585.0 L1236.3 583.9 L1238.5 581.1 L1240.8 580.5 L1241.8 577.9 L1242.8 576.9 L1243.8 572.7 L1244.8 572.4 L1245.8 569.7 L1246.8 567.0 L1247.8 563.8 L1248.8 560.8 L1249.8 559.5 L1250.6 557.2 L1251.5 554.8 L1252.3 552.5 L1253.2 550.1 L1254.0 547.8 L1254.9 545.4 L1255.7 543.1 L1257.6 541.3 L1259.5 541.2 L1261.3 539.1 L1263.2 538.0 L1265.1 540.3 L1267.0 540.3 L1268.8 543.3 L1270.7 544.0 L1273.0 544.7 L1275.2 544.1 L1277.5 542.6 L1279.7 543.1 L1281.2 540.3 L1282.7 537.8 L1284.2 535.6 L1285.7 535.3 L1287.2 532.6 L1289.4 531.2 L1291.7 530.6 L1293.9 528.0 L1296.1 527.2 L1298.3 528.0 L1300.6 530.6 L1302.8 532.1 L1305.1 532.0 L1307.1 530.2 L1309.1 531.1 L1311.1 529.6 L1312.8 531.5 L1314.6 531.8 L1316.3 535.2 L1318.1 536.0 L1319.8 538.0 L1321.6 540.1 L1323.3 543.2 L1325.0 544.6 L1326.7 544.7 L1328.4 548.2 L1330.1 548.4 L1331.8 552.6 L1333.5 553.5 L1335.2 555.7 L1336.9 557.7 L1338.6 558.0 L1340.4 560.1 L1342.1 563.2 L1343.8 564.8 L1345.5 567.0 L1347.0 569.6 L1348.5 569.9 L1350.0 572.0 L1351.5 573.0 L1353.0 575.8 L1354.5 577.5 L1356.8 579.3 L1359.0 578.1 L1361.2 580.1 L1363.5 579.9 L1365.6 580.6 L1367.7 584.1 L1369.7 584.8 L1371.8 585.4 L1373.9 588.0 L1376.4 588.4 L1378.9 588.4 L1381.4 587.1 L1383.4 588.0 L1385.4 589.7 L1387.4 592.5 L1389.8 591.6 L1392.2 591.9 L1394.6 592.8 L1397.0 592.2 L1399.4 591.0 L1401.9 591.5 L1404.4 591.8 L1406.8 594.2 L1409.3 595.1 L1411.8 595.2 L1414.3 596.9 L1416.8 597.9 L1419.3 599.7 L1421.8 598.2 L1424.3 599.4 L1426.8 601.6 L1429.3 601.4 L1431.9 600.3 L1434.4 600.0 L1437.0 599.9 L1439.5 601.2 L1442.1 599.4 L1444.6 599.1 L1447.2 599.9 L1449.6 600.5 L1452.0 601.2 L1454.4 601.5 L1456.8 600.9 L1459.2 602.5 L1461.6 600.8 L1464.0 601.8 L1466.4 602.0 L1468.8 602.7 L1471.2 602.9 L1473.8 601.8 L1476.3 601.4 L1478.9 603.3 L1481.4 601.2 L1484.0 601.4 L1486.5 602.2 L1489.1 600.8 L1491.7 600.9 L1494.2 601.7 L1496.8 602.8 L1499.4 602.1 L1502.0 602.6 L1504.5 604.7 L1507.1 605.0 L1509.5 603.8 L1511.9 602.2 L1514.3 601.9 L1516.7 602.1 L1519.1 600.8 L1521.6 601.5 L1524.1 600.8 L1526.6 600.1 L1529.1 601.7 L1531.6 600.0 L1534.0 601.5 L1536.5 599.9 L1539.0 601.9 L1541.5 601.5 L1544.0 600.8 L1546.5 600.6 L1549.0 600.8 L1551.5 600.3 L1554.0 599.9 L1556.5 599.0 L1559.0 598.7 L1561.5 596.5 L1564.0 596.9 L1566.5 596.5 L1569.0 597.3 L1571.5 596.3 L1573.9 597.5 L1576.4 596.2 L1578.9 596.0 L1581.3 595.4 L1583.7 596.8 L1586.1 595.4 L1588.5 595.6 L1590.9 595.4 L1593.2 594.3 L1595.4 593.4 L1597.7 590.2 L1599.9 589.5 L1601.1 588.2 L1602.4 585.2 L1603.6 582.4 L1604.8 580.1 L1606.1 579.5 L1607.3 576.0 L1608.3 574.9 L1609.4 571.6 L1610.5 568.9 L1611.5 567.0 L1613.2 567.2 L1614.8 564.9 L1616.7 564.9 L1618.5 566.3 L1620.4 568.7 L1622.3 570.0 L1624.4 571.7 L1626.5 571.7 L1628.6 573.7 L1630.7 574.9 L1632.8 577.5 L1635.3 576.6 L1637.8 576.3 L1640.3 576.9 L1642.2 577.9 L1644.0 580.0 L1645.8 582.6 L1647.7 585.0 L1650.1 585.2 L1652.5 588.1 L1654.9 588.3 L1657.3 588.8 L1659.7 591.0 L1662.0 591.8 L1664.2 592.5 L1666.5 591.8 L1668.7 592.5 L1671.0 593.0" stroke="#00ff66"/>
<path d="M162.0 237.6 L163.5 237.1 L165.8 235.2 L168.2 236.3 L170.5 234.6 L172.9 234.6 L175.2 234.5 L177.6 232.6 L179.9 231.7 L182.4 232.1 L184.9 231.4 L187.4 232.3 L189.9 233.3 L192.4 234.2 L194.9 234.1 L197.5 235.2 L200.1 234.3 L202.7 233.8 L205.4 234.6 L208.0 236.5 L210.6 234.9 L213.2 235.8 L215.8 236.2 L217.9 235.9 L220.0 232.2 L222.1 232.3 L224.2 231.9 L226.3 229.3 L228.2 227.2 L230.2 226.7 L232.1 226.3 L234.0 222.9 L235.9 222.6 L237.9 221.8 L239.8 219.8 L241.6 218.4 L243.4 216.1 L245.1 213.6 L246.9 212.6 L248.7 210.8 L249.6 208.4 L250.5 206.0 L251.5 203.6 L252.4 201.1 L253.3 198.7 L254.2 196.3 L255.2 193.9 L256.1 191.5 L257.0 189.1 L257.9 186.6 L258.9 184.2 L259.8 181.8 L260.7 179.4 L261.8 176.6 L262.8 174.4 L263.9 171.6 L264.9 170.4 L266.0 167.0 L267.7 165.8 L269.5 162.8 L271.2 161.4 L273.0 163.1 L274.7 163.9 L276.5 166.0 L277.8 168.2 L279.1 170.3 L280.4 173.5 L281.7 175.4 L282.6 177.7 L283.5 180.1 L284.4 182.4 L285.3 184.8 L286.1 187.1 L287.0 189.4 L287.9 191.8 L288.8 194.1 L289.7 196.5 L290.6 198.8 L292.1 200.6 L293.6 202.9 L295.1 205.7 L296.6 207.0 L298.1 210.4 L299.6 211.4 L302.2 211.1 L304.7 213.1 L307.3 212.9 L309.9 213.4 L312.5 214.5 L315.0 214.8 L317.6 215.3 L320.0 214.2 L322.4 212.2 L324.7 211.5 L327.1 212.2 L329.5 210.8 L331.9 211.0 L334.3 211.6 L336.7 212.3 L339.1 211.8 L341.5 211.4 L344.1 209.6 L346.6 209.7 L349.2 209.8 L351.8 208.3 L354.4 209.6 L356.9 209.0 L359.5 207.2 L361.5 206.5 L363.5 203.8 L365.4 203.1 L367.4 199.6 L369.4 198.5 L371.4 197.3 L373.5 196.2 L375.6 196.0 L377.7 194.3 L379.8 193.4 L382.2 193.4 L384.6 194.9 L387.0 195.9 L389.4 197.3 L391.9 197.5 L394.4 197.9 L396.9 199.3 L399.3 200.2 L401.8 201.8 L404.3 201.8 L406.7 203.9 L409.1 204.5 L411.5 205.7 L413.9 207.8 L416.3 208.4 L418.4 210.3 L420.6 210.7 L422.7 211.9 L424.9 213.1 L427.0 211.7 L429.2 214.8 L431.3 214.7 L433.9 213.6 L436.4 213.7 L439.0 214.1 L441.5 213.4 L444.1 211.4 L446.6 212.3 L449.2 211.4 L451.7 210.4 L454.2 211.3 L456.7 212.7 L459.2 211.8 L461.7 212.4 L464.2 212.3 L466.2 211.6 L468.2 210.6 L470.2 209.2 L472.2 206.0 L474.2 205.8 L476.2 204.8 L478.7 205.1 L481.2 204.4 L483.6 206.1 L486.1 206.7 L488.6 207.7 L491.1 207.2 L493.5 207.3 L495.9 204.1 L498.3 203.3 L500.7 203.3 L503.1 201.8 L505.1 199.7 L507.1 198.8 L509.2 198.6 L511.2 197.3 L513.2 197.9 L515.1 201.0 L517.1 202.7 L519.0 202.1 L521.0 204.8 L523.2 205.6 L525.5 206.9 L527.8 208.1 L530.0 206.9 L532.2 207.3 L534.5 209.8 L536.8 210.6 L539.0 210.2 L540.7 211.3 L542.4 213.8 L544.1 216.4 L545.9 218.6 L547.6 218.8 L549.3 221.9 L551.0 223.4 L553.3 223.9 L555.7 222.9 L558.0 221.6 L560.4 221.0 L562.7 221.3 L565.1 222.4 L567.4 221.3 L569.3 221.8 L571.3 223.4 L573.2 226.0 L575.1 227.0 L577.0 228.9 L579.0 230.3 L580.9 233.2 L582.9 234.6 L584.9 236.4 L586.9 237.0 L588.9 237.6 L590.8 239.4 L592.8 241.4 L594.8 243.7 L596.8 245.1 L598.8 245.2 L600.8 246.0 L602.8 246.9 L604.8 250.6 L606.8 252.3 L608.8 252.6 L610.8 254.2 L613.0 255.8 L615.3 257.0 L617.5 257.3 L619.8 258.9 L622.0 257.6 L624.3 259.2 L626.5 260.2 L628.8 261.7 L630.9 261.8 L633.1 264.9 L635.2 263.7 L637.3 266.4 L639.4 265.9 L641.6 267.7 L643.7 269.1 L646.1 268.8 L648.5 268.1 L650.9 268.9 L653.2 268.8 L655.6 268.1 L658.0 268.5 L660.3 269.3 L662.7 268.0 L665.0 269.1 L667.3 267.6 L669.6 267.4 L672.0 266.8 L674.3 265.7 L676.6 266.9 L678.9 266.0 L681.3 263.5 L683.6 263.5 L685.9 263.2 L687.6 260.8 L689.3 259.6 L691.0 257.5 L692.8 256.3 L694.5 255.7 L696.2 252.6 L697.9 251.2 L699.9 250.1 L701.9 248.4 L703.8 247.4 L705.8 244.1 L707.8 244.3 L709.8 242.2 L711.3 241.6 L712.8 239.0 L714.3 236.4 L715.8 235.6 L717.3 234.0 L718.8 231.7 L721.2 231.8 L723.6 230.2 L726.0 232.0 L728.4 231.7 L730.8 230.2 L732.8 228.7 L734.8 227.8 L736.8 225.0 L738.8 226.1 L740.8 224.4 L742.8 222.2 L745.2 221.4 L747.6 220.5 L749.9 217.8 L752.3 216.9 L754.7 216.2 L757.2 216.4 L759.7 218.1 L762.2 217.7 L764.7 220.6 L767.2 220.4 L769.7 221.3 L771.8 222.6 L774.0 223.2 L776.1 226.2 L778.2 228.1 L780.3 229.1 L782.5 229.5 L784.6 231.7 L786.5 233.9 L788.4 233.8 L790.2 237.1 L792.1 237.9 L794.0 238.7 L795.9 240.7 L797.7 242.5 L799.6 243.7 L801.1 244.9 L802.6 248.4 L804.1 249.1 L805.6 252.2 L807.1 253.9 L808.6 253.9 L810.1 257.2 L811.6 258.7 L813.1 260.3 L814.6 263.5 L816.1 265.0 L817.5 266.8 L819.0 270.0 L820.5 269.8 L822.0 273.2 L823.5 275.1 L826.1 275.0 L828.6 274.5 L831.2 276.7 L833.8 276.5 L836.4 277.6 L838.9 277.2 L841.5 277.2 L843.8 276.6 L846.0 278.2 L848.2 275.8 L850.5 276.6 L852.6 274.2 L854.7 274.8 L856.7 272.7 L858.8 271.4 L860.9 270.6 L862.8 273.4 L864.8 273.8 L866.7 277.0 L868.6 278.2 L870.5 279.2 L872.5 280.3 L874.4 283.2 L877.0 282.9 L879.6 285.2 L882.3 284.1 L884.9 283.8 L887.5 284.5 L890.1 286.5 L892.8 285.0 L895.4 286.2 L897.9 287.6 L900.4 286.6 L902.8 289.3 L905.3 288.9 L907.8 288.3 L910.3 290.1 L912.7 291.4 L915.2 290.0 L917.6 291.1 L920.1 290.7 L922.5 289.7 L925.0 289.9 L927.4 290.1 L929.9 290.3 L932.3 290.2 L934.8 290.3 L937.2 291.6 L939.5 291.4 L941.7 287.8 L944.0 287.6 L946.2 286.2 L948.5 286.2 L950.7 287.4 L953.0 289.8 L955.2 290.1 L957.8 290.5 L960.3 288.6 L962.9 286.6 L965.5 288.5 L968.1 285.3 L970.6 285.4 L973.2 285.0 L975.4 285.6 L977.7 287.1 L979.9 287.4 L982.1 287.1 L984.4 286.4 L986.8 284.8 L989.1 285.0 L991.4 284.1 L993.8 283.1 L996.1 281.7 L998.4 279.1 L1000.8 278.6 L1003.1 278.1 L1005.1 276.7 L1007.1 275.4 L1009.0 274.9 L1011.0 272.0 L1013.0 271.8 L1015.0 270.0 L1017.5 269.9 L1020.0 271.1 L1022.5 270.6 L1024.5 268.5 L1026.5 267.8 L1028.6 265.5 L1030.6 265.2 L1032.7 266.0 L1034.8 269.3 L1036.9 269.2 L1039.0 271.2 L1041.2 271.9 L1043.5 270.7 L1045.8 269.1 L1048.0 270.0 L1049.5 272.9 L1051.0 273.0 L1052.5 277.2 L1053.9 277.1 L1055.4 281.0 L1056.9 282.6 L1059.2 281.9 L1061.4 282.5 L1063.7 284.2 L1065.9 283.2 L1068.3 284.1 L1070.7 285.5 L1073.1 286.7 L1075.5 286.0 L1077.9 288.0 L1080.3 287.9 L1082.7 287.2 L1085.0 284.2 L1087.4 284.3 L1089.8 283.2 L1092.4 282.4 L1095.0 283.3 L1097.7 281.2 L1100.3 282.2 L1102.9 282.6 L1105.5 282.2 L1108.2 280.3 L1110.8 281.1 L1113.4 282.4 L1115.9 281.3 L1118.5 283.2 L1121.0 282.8 L1123.6 282.4 L1126.1 284.3 L1128.7 284.1 L1131.0 283.9 L1133.2 282.7 L1135.5 282.4 L1137.7 280.2 L1140.0 280.8 L1142.2 281.9 L1144.5 282.9 L1146.7 285.0 L1149.0 284.4 L1151.2 283.2 L1153.5 282.4 L1155.7 282.0 L1158.1 282.4 L1160.5 282.4 L1162.8 282.2 L1165.2 283.9 L1167.6 283.9 L1170.0 285.0 L1172.5 284.9 L1175.0 286.1 L1177.5 284.2 L1180.0 285.4 L1182.4 285.4 L1184.9 284.4 L1187.4 284.9 L1189.9 285.0 L1192.3 286.4 L1194.8 284.9 L1197.2 285.9 L1199.6 286.4 L1202.1 285.3 L1204.5 287.1 L1206.9 286.2 L1209.3 286.1 L1211.8 286.7 L1214.2 286.1 L1216.6 287.0 L1219.1 286.0 L1221.5 287.8 L1223.9 286.9 L1226.4 286.3 L1228.8 287.1 L1231.1 286.5 L1233.5 287.3 L1235.8 286.6 L1238.1 285.3 L1240.5 284.5 L1242.8 284.2 L1245.1 285.3 L1247.5 282.6 L1249.8 283.2 L1251.9 283.3 L1254.1 282.2 L1256.2 279.7 L1258.3 279.0 L1260.4 278.7 L1262.6 278.3 L1264.7 276.6 L1266.8 276.5 L1269.0 275.3 L1271.1 272.2 L1273.3 270.7 L1275.4 270.1 L1277.6 269.0 L1279.7 267.6 L1281.0 265.9 L1282.3 262.3 L1283.6 261.6 L1284.8 260.2 L1286.1 258.0 L1287.4 256.0 L1288.7 252.7 L1290.2 252.0 L1291.7 250.4 L1293.2 246.3 L1294.6 246.8 L1296.1 243.4 L1297.6 242.2 L1299.8 240.7 L1302.1 240.1 L1304.3 240.4 L1306.6 238.5 L1308.8 236.8 L1311.1 236.2 L1313.3 237.4 L1315.6 240.3 L1317.8 241.5 L1320.1 241.3 L1322.3 243.0 L1324.6 245.2 L1326.7 246.4 L1328.9 247.5 L1331.0 249.9 L1333.1 250.5 L1335.2 252.9 L1337.4 255.3 L1339.5 255.7 L1341.4 258.5 L1343.2 258.4 L1345.1 260.5 L1347.0 262.9 L1348.9 265.4 L1350.8 266.6 L1352.6 268.1 L1354.5 270.6 L1356.5 271.7 L1358.5 272.8 L1360.5 276.0 L1362.5 277.1 L1364.5 277.9 L1366.5 279.6 L1368.2 282.0 L1369.9 283.5 L1371.6 285.5 L1373.3 287.0 L1375.0 289.2 L1376.7 292.4 L1378.4 293.1 L1381.0 294.0 L1383.7 294.3 L1386.3 292.7 L1388.9 293.9 L1391.5 293.7 L1394.2 293.2 L1396.8 294.1 L1399.4 294.6 L1401.5 294.6 L1403.7 296.0 L1405.8 298.5 L1407.9 299.3 L1410.0 300.4 L1412.2 299.8 L1414.3 302.0 L1416.8 301.3 L1419.3 301.0 L1421.8 301.3 L1424.3 301.5 L1426.8 303.8 L1429.3 303.8 L1431.8 302.1 L1434.3 302.4 L1436.8 304.3 L1439.3 303.4 L1441.8 303.0 L1444.3 303.5 L1446.7 304.3 L1449.1 304.7 L1451.4 306.4 L1453.8 307.7 L1456.2 308.0 L1458.5 307.1 L1460.7 307.0 L1463.0 304.3 L1465.2 304.4 L1467.6 305.7 L1470.0 307.7 L1472.4 306.5 L1474.8 308.5 L1477.2 309.5 L1479.8 309.4 L1482.3 308.2 L1484.9 309.4 L1487.4 307.7 L1490.0 307.3 L1492.5 308.0 L1495.1 306.5 L1497.5 305.3 L1500.0 307.6 L1502.4 305.7 L1504.9 306.5 L1507.3 306.8 L1509.8 306.8 L1512.2 305.8 L1514.7 306.6 L1517.1 306.7 L1519.6 308.4 L1522.0 308.3 L1524.5 307.5 L1527.0 308.5 L1529.4 308.4 L1531.8 307.2 L1534.3 306.6 L1536.8 307.9 L1539.2 307.3 L1541.7 306.5 L1544.1 309.1 L1546.5 309.2 L1549.0 308.0 L1551.5 307.3 L1554.0 306.6 L1556.5 305.9 L1559.0 305.8 L1561.5 303.7 L1564.0 303.0 L1566.6 302.5 L1569.1 300.9 L1571.7 300.3 L1574.2 300.3 L1576.8 298.9 L1579.3 297.7 L1581.9 298.2 L1584.4 298.5 L1586.9 300.1 L1589.4 299.5 L1591.9 301.7 L1594.4 301.9 L1596.9 302.0 L1599.3 302.6 L1601.7 303.4 L1604.0 301.5 L1606.4 302.0 L1608.8 303.0 L1611.0 304.9 L1613.3 305.8 L1615.5 304.5 L1617.8 306.5 L1620.0 306.5 L1622.3 303.7 L1624.5 303.3 L1626.8 303.5 L1629.4 302.5 L1631.9 303.0 L1634.5 303.2 L1637.0 304.6 L1639.6 303.3 L1642.1 302.5 L1644.7 303.5 L1647.0 303.7 L1649.2 303.7 L1651.5 304.5 L1653.7 306.5 L1656.2 305.8 L1658.7 305.5 L1661.2 304.3 L1663.7 304.2 L1666.2 303.0 L1668.7 303.5 L1671.0 303.8" stroke="#0033ff"/>
</g>
<g font-family="'Liberation Sans', Arial, sans-serif" font-weight="bold" fill="#000">
<text transform="translate(299.5 1336.3) scale(0.975 1)" font-size="69.9" text-anchor="middle">30</text>
<text transform="translate(573.8 1336.3) scale(0.975 1)" font-size="69.9" text-anchor="middle">40</text>
<text transform="translate(848.0 1336.3) scale(0.975 1)" font-size="69.9" text-anchor="middle">50</text>
<text transform="translate(1122.2 1336.3) scale(0.975 1)" font-size="69.9" text-anchor="middle">60</text>
<text transform="translate(1396.5 1336.3) scale(0.975 1)" font-size="69.9" text-anchor="middle">70</text>
<text transform="translate(1670.8 1336.3) scale(0.975 1)" font-size="69.9" text-anchor="middle">80</text>
<text x="910.3" y="1414.4" font-size="73.4" text-anchor="middle">2-Theta</text>
<text transform="translate(102.3 602) rotate(-90)" font-size="70.6" text-anchor="middle">Intensity (a. u.)</text>
<text transform="translate(1619.4 90.8) scale(0.987 1)" font-size="60.6" text-anchor="end">a) NiCuAlCe</text>
<text transform="translate(1638.1 410.8) scale(0.987 1)" font-size="60.6" text-anchor="end">b) AuCuAlCe</text>
<text transform="translate(1614.3 764.6) scale(0.987 1)" font-size="60.6" text-anchor="end">c) AgCuAlCe</text>
<text transform="translate(1653.3 1141.5) scale(0.987 1)" font-size="60.6" text-anchor="end">d) CuAlCe</text>
</g>
<g fill="#000"><text transform="translate(256.91 149.70) scale(1 0.945)" font-family="'Liberation Sans', sans-serif" font-weight="bold" font-size="81.5">*</text>
<text transform="translate(1016.11 261.00) scale(1 0.945)" font-family="'Liberation Sans', sans-serif" font-weight="bold" font-size="81.5">*</text>
<text transform="translate(252.51 474.20) scale(1 0.945)" font-family="'Liberation Sans', sans-serif" font-weight="bold" font-size="81.5">*</text>
<text transform="translate(1012.01 567.60) scale(1 0.945)" font-family="'Liberation Sans', sans-serif" font-weight="bold" font-size="81.5">*</text>
<text transform="translate(236.61 852.60) scale(1 0.945)" font-family="'Liberation Sans', sans-serif" font-weight="bold" font-size="81.5">*</text>
<text transform="translate(355.41 765.80) scale(1 0.945)" font-family="'Liberation Sans', sans-serif" font-weight="bold" font-size="81.5">*</text>
<text transform="translate(737.11 880.30) scale(1 0.945)" font-family="'Liberation Sans', sans-serif" font-weight="bold" font-size="81.5">*</text>
<text transform="translate(958.61 1011.40) scale(1 0.945)" font-family="'Liberation Sans', sans-serif" font-weight="bold" font-size="81.5">*</text>
<text transform="translate(1045.41 1007.70) scale(1 0.945)" font-family="'Liberation Sans', sans-serif" font-weight="bold" font-size="81.5">*</text>
<text transform="translate(1559.31 1023.70) scale(1 0.945)" font-family="'Liberation Sans', sans-serif" font-weight="bold" font-size="81.5">*</text>
<text transform="translate(257.71 1188.50) scale(1 0.945)" font-family="'Liberation Sans', sans-serif" font-weight="bold" font-size="81.5">*</text>
<text transform="translate(371.61 1192.60) scale(1 0.945)" font-family="'Liberation Sans', sans-serif" font-weight="bold" font-size="81.5">*</text>
<text transform="translate(745.01 1184.00) scale(1 0.945)" font-family="'Liberation Sans', sans-serif" font-weight="bold" font-size="81.5">*</text>
<text x="514.59" y="559.06" font-family="'Liberation Sans', sans-serif" font-weight="bold" font-size="66.2" stroke="#000" stroke-width="0.7">+</text>
<text x="679.54" y="845.11" font-family="'Liberation Sans', sans-serif" font-weight="bold" font-size="66.2" stroke="#000" stroke-width="0.7">+</text>
<text x="1226.34" y="934.91" font-family="'Liberation Sans', sans-serif" font-weight="bold" font-size="66.2" stroke="#000" stroke-width="0.7">+</text>
<text x="1599.94" y="955.61" font-family="'Liberation Sans', sans-serif" font-weight="bold" font-size="66.2" stroke="#000" stroke-width="0.7">+</text>
<text x="372.03" y="172.63" font-family="'DejaVu Sans', sans-serif" font-weight="normal" font-size="31.8">●</text>
<text x="497.33" y="176.53" font-family="'DejaVu Sans', sans-serif" font-weight="normal" font-size="31.8">●</text>
<text x="558.03" y="194.53" font-family="'DejaVu Sans', sans-serif" font-weight="normal" font-size="31.8">●</text>
<text x="745.93" y="193.63" font-family="'DejaVu Sans', sans-serif" font-weight="normal" font-size="31.8">●</text>
<text x="1294.83" y="207.03" font-family="'DejaVu Sans', sans-serif" font-weight="normal" font-size="31.8">●</text>
<text x="358.13" y="467.73" font-family="'DejaVu Sans', sans-serif" font-weight="normal" font-size="31.8">●</text>
<text x="1288.23" y="498.33" font-family="'DejaVu Sans', sans-serif" font-weight="normal" font-size="31.8">●</text>
<text x="1601.83" y="542.33" font-family="'DejaVu Sans', sans-serif" font-weight="normal" font-size="31.8">●</text>
<text x="1301.73" y="949.83" font-family="'DejaVu Sans', sans-serif" font-weight="normal" font-size="31.8">●</text>
<text x="483.93" y="1173.33" font-family="'DejaVu Sans', sans-serif" font-weight="normal" font-size="31.8">●</text>
<text x="1302.63" y="1168.23" font-family="'DejaVu Sans', sans-serif" font-weight="normal" font-size="31.8">●</text>
<text transform="translate(698.69 209.30) scale(1 0.86)" font-family="'DejaVu Sans', sans-serif" font-weight="normal" font-size="31.3">▼</text>
<text transform="translate(845.69 250.30) scale(1 0.86)" font-family="'DejaVu Sans', sans-serif" font-weight="normal" font-size="31.3">▼</text>
<text transform="translate(1573.79 280.20) scale(1 0.86)" font-family="'DejaVu Sans', sans-serif" font-weight="normal" font-size="31.3">▼</text>
<text transform="translate(517.49 268.88) scale(1 0.845)" font-family="'DejaVu Sans', sans-serif" font-weight="normal" font-size="31.3" stroke="#000" stroke-width="0.3">▽</text>
<text transform="translate(686.99 433.78) scale(1 0.845)" font-family="'DejaVu Sans', sans-serif" font-weight="normal" font-size="31.3" stroke="#000" stroke-width="0.3">▽</text>
<text transform="translate(1247.99 513.28) scale(1 0.845)" font-family="'DejaVu Sans', sans-serif" font-weight="normal" font-size="31.3" stroke="#000" stroke-width="0.3">▽</text>
<text x="848.70" y="547.83" font-family="'DejaVu Sans', sans-serif" font-weight="normal" font-size="28.2" stroke="#000" stroke-width="0.85">○</text>
<text x="847.20" y="986.73" font-family="'DejaVu Sans', sans-serif" font-weight="normal" font-size="28.2" stroke="#000" stroke-width="0.85">○</text>
<text x="265.59" y="880.26" font-family="'DejaVu Sans', sans-serif" font-weight="normal" font-size="23.3">■</text></g>
</svg>
</body></html>
